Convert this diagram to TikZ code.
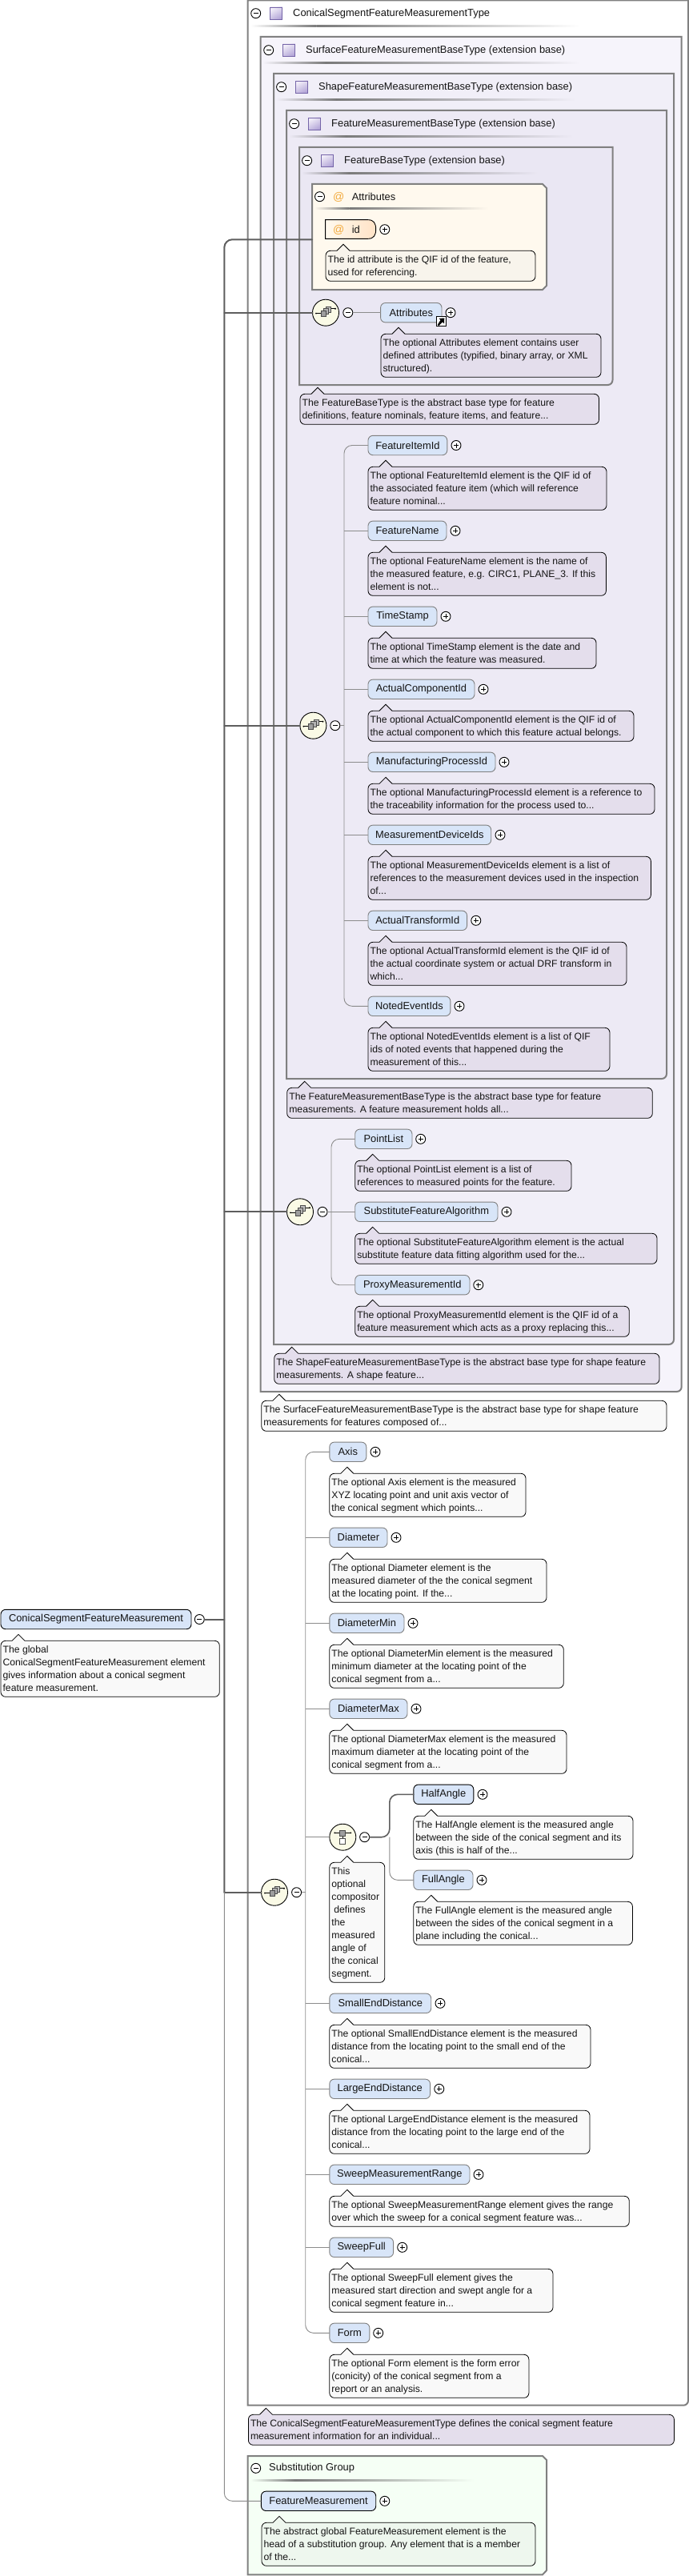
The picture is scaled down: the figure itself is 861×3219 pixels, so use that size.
\documentclass[tikz,border=0pt]{standalone}
\usepackage{fontspec}
\setmainfont{Liberation Sans}
\definecolor{framegray}{HTML}{808080}
\definecolor{trunkgray}{HTML}{5E5E5E}
\definecolor{conngray}{HTML}{8C8C8C}
\definecolor{elemblue}{HTML}{D8E5F8}
\definecolor{docpurple}{HTML}{E4DEEC}
\definecolor{docwhite}{HTML}{F9F9F9}
\definecolor{doccream}{HTML}{F8F4EC}
\definecolor{docgreen}{HTML}{EEF7EE}
\definecolor{bgone}{HTML}{F6F4FB}
\definecolor{bgtwo}{HTML}{F1EFF8}
\definecolor{bgthree}{HTML}{EDEAF5}
\definecolor{bgfour}{HTML}{EAE7F3}
\definecolor{bgattr}{HTML}{FFF9EE}
\definecolor{bgsub}{HTML}{F5FFF5}
\definecolor{compfill}{HTML}{FAFAE6}
\definecolor{atorange}{HTML}{F2A93B}
\definecolor{inktext}{HTML}{141414}
\definecolor{icontop}{HTML}{F1EDF8}
\definecolor{iconbot}{HTML}{B4A6D8}
\definecolor{iconedge}{HTML}{7565A8}
\tikzset{
 textfont/.style={font=\fontsize{12.2}{16}\selectfont,text=inktext},
 labelfont/.style={font=\fontsize{12.9}{16}\selectfont,text=inktext},
 elem/.style={rectangle,rounded corners=6pt,draw=framegray,line width=0.9pt,fill=elemblue,inner sep=0pt,labelfont,outer sep=0pt},
 elemblack/.style={elem,draw=black},
 doctext/.style={anchor=north west,inner sep=0pt,outer sep=0pt,align=left,textfont},
 titletext/.style={anchor=west,inner sep=0pt,labelfont},
 docline/.style={draw=black,line width=0.8pt},
 frameline/.style={draw=framegray,line width=2pt},
 conn/.style={draw=conngray,line width=0.9pt},
 trunk/.style={draw=trunkgray,line width=2pt,line cap=round},
 pmbase/.style={circle,draw=black,line width=0.9pt,minimum size=12pt,inner sep=0pt,outer sep=0pt},
 plusnode/.style={pmbase,fill=white,path picture={\draw[line width=0.8pt] (path picture bounding box.center)+(-3pt,0pt)--+(3pt,0pt) (path picture bounding box.center)+(0pt,-3pt)--+(0pt,3pt);}},
 minusnode/.style={pmbase,fill=white,path picture={\draw[line width=0.8pt] (path picture bounding box.center)+(-3pt,0pt)--+(3pt,0pt);}},
 compnode/.style={circle,draw=black,line width=0.9pt,fill=compfill,minimum size=33pt,inner sep=0pt,outer sep=0pt},
 iconsq/.style={draw=black!70,line width=0.7pt,fill=black!38},
 iconln/.style={draw=black,line width=0.7pt},
}
\newcommand{\ELB}[6][elem]{%
 \pgfmathsetmacro{\ELw}{#5-#4}\pgfmathsetmacro{\ELc}{(#4+#5)/2}%
 \node[#1,minimum width=\ELw pt,minimum height=24.4pt] (#2) at (\ELc,#6) {#3};}
\newcommand{\EL}[7][elem]{\ELB[#1]{#2}{#3}{#4}{#5}{#6}\node[plusnode] (#2-plus) at (#7,#6) {};}
\newcommand{\DOC}[7]{%
 \pgfmathsetmacro{\DOCtip}{#2+22}%
 \pgfmathsetmacro{\DOCa}{\DOCtip-8}\pgfmathsetmacro{\DOCb}{\DOCtip+8}%
 \pgfmathsetmacro{\DOCh}{#4-8}\pgfmathsetmacro{\DOCtx}{#2+2.6}\pgfmathsetmacro{\DOCty}{#4+4.4}%
 \draw[docline,fill=#6,rounded corners=6pt] (#2,#4) rectangle (#3,#5);%
 \fill[#6] (\DOCa,#4-0.7) rectangle (\DOCb,#4+0.7);%
 \draw[docline,fill=#6] (\DOCa,#4)--(\DOCtip,\DOCh)--(\DOCb,#4);%
 \node[doctext] (#1) at (\DOCtx,\DOCty) {\rule{0pt}{11pt}#7};}
\newcommand{\FRAME}[5]{\draw[frameline,fill=#5] (#1,#3)--(#2,#3)[rounded corners=6pt]--(#2,#4)[sharp corners]--(#1,#4)--cycle;}
\newcommand{\SEPR}[4]{%
 \pgfmathsetmacro{\SEPm}{#1+0.2*(#2-#1)}%
 \shade[left color=#4,right color=black!52] (#1,#3-1)rectangle(\SEPm,#3+1);%
 \shade[left color=black!52,right color=#4] (\SEPm,#3-1)rectangle(#2,#3+1);}
\newcommand{\TYPEICON}[2]{\shade[bottom color=iconbot,top color=icontop,draw=iconedge,line width=0.9pt,shading angle=30] (#1,#2-7.7) rectangle (#1+15.4,#2+7.7);}
\newcommand{\HDR}[6]{%
 \node[minusnode] (#1-minus) at (#2,#6) {};%
 \TYPEICON{#3}{#6}%
 \node[titletext] (#1-title) at (#4,#6) {#5};}
\newcommand{\SEQICON}[2]{%
 \draw[iconln] (#1-12,#2+1)--(#1-6,#2+1) (#1+6.5,#2-5)--(#1+12,#2-5);%
 \fill (#1-12,#2+1) circle (1pt) (#1+12,#2-5) circle (1.1pt);%
 \draw[iconsq,fill=black!25] (#1+0.7,#2-7.7) rectangle (#1+6.7,#2-0.7);%
 \draw[iconsq,fill=black!30] (#1-2.7,#2-5) rectangle (#1+3.5,#2+2);%
 \draw[iconsq] (#1-6,#2-2) rectangle (#1+0.4,#2+5);}
\newcommand{\CHOICON}[2]{%
 \draw[iconln] (#1-10,#2-5.3)--(#1+10,#2-5.3) (#1,#2-2)--(#1,#2+2);%
 \fill (#1-10,#2-5.3) circle (1pt) (#1+10,#2-5.3) circle (1pt);%
 \draw[iconsq] (#1-3.5,#2-8.5) rectangle (#1+3.5,#2-1.8);%
 \draw[iconsq,fill=white] (#1-3.5,#2+2) rectangle (#1+3.5,#2+8.7);}
\begin{document}
\begin{tikzpicture}[x=1pt,y=-1pt]
\useasboundingbox (0,0) rectangle (861,3219);
\fill[white] (0,0) rectangle (861,3219);
% ---- frames
\FRAME{309.7}{860}{0.5}{3005.7}{white}
\FRAME{325.7}{851.7}{46}{1739}{bgone}
\FRAME{342}{842}{92}{1680}{bgtwo}
\FRAME{358}{833}{138}{1348}{bgthree}
\FRAME{374}{765.5}{184}{481}{bgfour}
\draw[frameline,fill=bgattr] (390,230)--(678,230)--(683,235)--(683,357)--(678,362)--(390,362)--cycle;
\draw[frameline,fill=bgsub] (309.7,3069)--(678,3069)--(683,3074)--(683,3212)--(678,3217.3)--(309.7,3217.3)--cycle;
% ---- headers
\HDR{outer}{319.7}{337.5}{366}{ConicalSegmentFeatureMeasurementType}{16.7}
\SEPR{313}{725}{33}{white}
\HDR{surface}{335.7}{353.5}{382}{SurfaceFeatureMeasurementBaseType (extension base)}{62.7}
\SEPR{328}{724}{79}{bgone}
\HDR{shape}{351.6}{369.5}{398}{ShapeFeatureMeasurementBaseType (extension base)}{108.7}
\SEPR{345}{720}{125}{bgtwo}
\HDR{fmeas}{367.6}{385.4}{414}{FeatureMeasurementBaseType (extension base)}{154.7}
\SEPR{361}{716}{171}{bgthree}
\HDR{fbase}{383.6}{401.4}{430}{FeatureBaseType (extension base)}{200.7}
\SEPR{377}{672}{217}{bgfour}
% ---- attributes block
\node[minusnode] (attrs-minus) at (399.5,245.7) {};
\node[titletext,text=atorange,font=\fontsize{14}{16}\selectfont] (attrs-at) at (416,246.5) {@};
\node[titletext] (attrs-title) at (439.6,245.7) {Attributes};
\SEPR{393}{610}{261}{bgattr}
\shade[left color=bgattr,right color=orange!22!white,draw=black,line width=0.9pt] (406.6,274.7)--(460,274.7)..controls(467,274.7)and(469.7,279)..(469.7,286.5)..controls(469.7,294)and(467,298.3)..(460,298.3)--(406.6,298.3)--cycle;
\node[titletext,text=atorange,font=\fontsize{14}{16}\selectfont] (id-at) at (416,287.5) {@};
\node[titletext] (id-label) at (439.6,286.5) {id};
\node[plusnode] (id-plus) at (480.8,286.7) {};
\DOC{id-doc}{407}{669}{313.3}{351.3}{doccream}{The id attribute is the QIF id of the feature,\\used for referencing.}
\coordinate (attrbox) at (390,299.3);
\coordinate (trunk4) at (280.3,2364.7);
% ---- global element on the left
\ELB[elemblack]{root}{ConicalSegmentFeatureMeasurement}{1}{239}{2023.5}
\node[minusnode] (root-minus) at (249.3,2023.5) {};
\DOC{root-doc}{1}{274.3}{2050.3}{2120.3}{docwhite}{The global\\ConicalSegmentFeatureMeasurement element\\gives information about a conical segment\\feature measurement.}
% ---- compositors
\node[compnode] (comp1) at (407,390.7) {};
\node[compnode] (comp2) at (391.4,906.7) {};
\node[compnode] (comp3) at (375,1514.3) {};
\node[compnode] (comp4) at (343,2364.7) {};
\node[compnode] (comp5) at (428.3,2295.7) {};
\node[minusnode] (m1) at (434.8,390.7) {};
\node[minusnode] (m2) at (418.8,906.7) {};
\node[minusnode] (m3) at (403,1514.3) {};
\node[minusnode] (m4) at (370.6,2364.7) {};
\node[minusnode] (m5) at (455.6,2295.7) {};
\coordinate (bus2) at (430,906.7);
\coordinate (bus3) at (414,1514.3);
\coordinate (bus4) at (381.7,2364.7);
\coordinate (bus5) at (486.8,2295.7);
% ---- first group
\EL{Attributes}{Attributes}{475.6}{552}{390.7}{563}
\DOC{Attributes-doc}{476}{751}{417.3}{471.3}{docpurple}{The optional Attributes element contains user\\defined attributes (typified, binary array, or XML\\structured).}
\node[rectangle,draw=black,line width=0.9pt,fill=white,minimum size=12pt,inner sep=0pt] (attr-link) at (551,401.7) {};
\fill[black] (546.8,405.7)--(548.3,407)--(553,402.3)--(555,404.3)--(555.3,397.6)--(548.6,397.9)--(550.6,399.9)--cycle;
\DOC{fbase-doc}{375}{748.5}{492.3}{530.3}{docpurple}{The FeatureBaseType is the abstract base type for feature\\definitions, feature nominals, feature items, and feature...}
% ---- second group
\EL{FeatureItemId}{FeatureItemId}{460}{558.8}{556.5}{570}
\DOC{FeatureItemId-doc}{460}{758}{583.3}{637.3}{docpurple}{The optional FeatureItemId element is the QIF id of\\the associated feature item (which will reference\\feature nominal...}
\EL{FeatureName}{FeatureName}{460}{558}{663.3}{569}
\DOC{FeatureName-doc}{460}{757.4}{690.3}{744.3}{docpurple}{The optional FeatureName element is the name of\\the measured feature, e.g. CIRC1, PLANE\_3. If this\\element is not...}
\EL{TimeStamp}{TimeStamp}{460}{546}{770.3}{557}
\DOC{TimeStamp-doc}{460}{745}{797.3}{835.3}{docpurple}{The optional TimeStamp element is the date and\\time at which the feature was measured.}
\EL{ActualComponentId}{ActualComponentId}{460}{593}{861.3}{604}
\DOC{ActualComponentId-doc}{460}{792}{888.3}{926.3}{docpurple}{The optional ActualComponentId element is the QIF id of\\the actual component to which this feature actual belongs.}
\EL{ManufacturingProcessId}{ManufacturingProcessId}{460}{619}{952.3}{630}
\DOC{ManufacturingProcessId-doc}{460}{818}{979.3}{1017.3}{docpurple}{The optional ManufacturingProcessId element is a reference to\\the traceability information for the process used to...}
\EL{MeasurementDeviceIds}{MeasurementDeviceIds}{460}{613.7}{1043.3}{625}
\DOC{MeasurementDeviceIds-doc}{460}{813.4}{1070.3}{1124.3}{docpurple}{The optional MeasurementDeviceIds element is a list of\\references to the measurement devices used in the inspection\\of...}
\EL{ActualTransformId}{ActualTransformId}{460}{583.6}{1150.3}{594.8}
\DOC{ActualTransformId-doc}{460}{783}{1177.3}{1231.3}{docpurple}{The optional ActualTransformId element is the QIF id of\\the actual coordinate system or actual DRF transform in\\which...}
\EL{NotedEventIds}{NotedEventIds}{460}{562.9}{1257.3}{574}
\DOC{NotedEventIds-doc}{460}{762}{1284.3}{1338.3}{docpurple}{The optional NotedEventIds element is a list of QIF\\ids of noted events that happened during the\\measurement of this...}
\DOC{fmeas-doc}{358.7}{815.3}{1359.3}{1397.3}{docpurple}{The FeatureMeasurementBaseType is the abstract base type for feature\\measurements. A feature measurement holds all...}
% ---- third group
\EL{PointList}{PointList}{443.7}{515}{1423.3}{525.7}
\DOC{PointList-doc}{443.7}{714}{1450.3}{1488.3}{docpurple}{The optional PointList element is a list of\\references to measured points for the feature.}
\EL{SubstituteFeatureAlgorithm}{SubstituteFeatureAlgorithm}{443.7}{622}{1514.3}{633}
\DOC{SubstituteFeatureAlgorithm-doc}{443.7}{821}{1541.3}{1579.3}{docpurple}{The optional SubstituteFeatureAlgorithm element is the actual\\substitute feature data fitting algorithm used for the...}
\EL{ProxyMeasurementId}{ProxyMeasurementId}{443.7}{587}{1605.7}{597.8}
\DOC{ProxyMeasurementId-doc}{443.7}{786.3}{1632.3}{1670.3}{docpurple}{The optional ProxyMeasurementId element is the QIF id of a\\feature measurement which acts as a proxy replacing this...}
\DOC{shape-doc}{342.7}{824}{1691.3}{1729.3}{docpurple}{The ShapeFeatureMeasurementBaseType is the abstract base type for shape feature\\measurements. A shape feature...}
\DOC{surface-doc}{326.8}{833}{1750.3}{1788.3}{docwhite}{The SurfaceFeatureMeasurementBaseType is the abstract base type for shape feature\\measurements for features composed of...}
% ---- fourth group
\EL{Axis}{Axis}{411.8}{457.8}{1814.3}{469}
\DOC{Axis-doc}{411.8}{657}{1841.3}{1895.3}{docwhite}{The optional Axis element is the measured\\XYZ locating point and unit axis vector of\\the conical segment which points...}
\EL{Diameter}{Diameter}{411.8}{484}{1921.3}{495}
\DOC{Diameter-doc}{411.8}{683}{1948.3}{2002.3}{docwhite}{The optional Diameter element is the\\measured diameter of the the conical segment\\at the locating point. If the...}
\EL{DiameterMin}{DiameterMin}{411.8}{505}{2028.3}{516}
\DOC{DiameterMin-doc}{411.8}{704.3}{2055.3}{2109.3}{docwhite}{The optional DiameterMin element is the measured\\minimum diameter at the locating point of the\\conical segment from a...}
\EL{DiameterMax}{DiameterMax}{411.8}{509}{2135.3}{520}
\DOC{DiameterMax-doc}{411.8}{708}{2162.3}{2216.3}{docwhite}{The optional DiameterMax element is the measured\\maximum diameter at the locating point of the\\conical segment from a...}
\DOC{comp5-doc}{411.8}{480.8}{2327.3}{2477.3}{docwhite}{This\\optional\\compositor\\\hspace*{3pt}defines\\the\\measured\\angle of\\the conical\\segment.}
\EL[elemblack]{HalfAngle}{HalfAngle}{516.8}{591.8}{2242.3}{603}
\DOC{HalfAngle-doc}{516.8}{791}{2269.3}{2323.3}{docwhite}{The HalfAngle element is the measured angle\\between the side of the conical segment and its\\axis (this is half of the...}
\EL{FullAngle}{FullAngle}{516.8}{591}{2349.3}{602}
\DOC{FullAngle-doc}{516.8}{790.4}{2376.3}{2430.3}{docwhite}{The FullAngle element is the measured angle\\between the sides of the conical segment in a\\plane including the conical...}
\EL{SmallEndDistance}{SmallEndDistance}{411.8}{538.7}{2503.3}{550}
\DOC{SmallEndDistance-doc}{411.8}{738}{2530.3}{2584.3}{docwhite}{The optional SmallEndDistance element is the measured\\distance from the locating point to the small end of the\\conical...}
\EL{LargeEndDistance}{LargeEndDistance}{411.8}{537.6}{2610.3}{548.8}
\DOC{LargeEndDistance-doc}{411.8}{737}{2637.3}{2691.3}{docwhite}{The optional LargeEndDistance element is the measured\\distance from the locating point to the large end of the\\conical...}
\EL{SweepMeasurementRange}{SweepMeasurementRange}{411.8}{587}{2717.3}{598}
\DOC{SweepMeasurementRange-doc}{411.8}{786.3}{2744.3}{2782.3}{docwhite}{The optional SweepMeasurementRange element gives the range\\over which the sweep for a conical segment feature was...}
\EL{SweepFull}{SweepFull}{411.8}{491.6}{2808.3}{502.7}
\DOC{SweepFull-doc}{411.8}{691}{2835.3}{2889.3}{docwhite}{The optional SweepFull element gives the\\measured start direction and swept angle for a\\conical segment feature in...}
\EL{Form}{Form}{411.8}{461.9}{2915.3}{472.7}
\DOC{Form-doc}{411.8}{660.9}{2942.3}{2996.3}{docwhite}{The optional Form element is the form error\\(conicity) of the conical segment from a\\report or an analysis.}
\DOC{outer-doc}{310.4}{842.4}{3017.3}{3055.3}{docpurple}{The ConicalSegmentFeatureMeasurementType defines the conical segment feature\\measurement information for an individual...}
% ---- substitution group
\node[minusnode] (sub-minus) at (319.7,3084.3) {};
\node[titletext] (sub-title) at (336,3084.3) {Substitution Group};
\SEPR{313}{592}{3099.7}{bgsub}
\EL[elemblack]{FeatureMeasurement}{FeatureMeasurement}{326.4}{469.7}{3125.3}{480.8}
\DOC{FeatureMeasurement-doc}{327}{669}{3152.3}{3206.3}{docgreen}{The abstract global FeatureMeasurement element is the\\head of a substitution group. Any element that is a member\\of the...}
% ---- connectors
\draw[trunk] (root-minus.east)--(root-minus.east-|trunk4);
\draw[trunk,rounded corners=10pt] (attrbox) -| (trunk4);
\draw[trunk] (trunk4)--(comp4.west);
\draw[trunk] (comp1.west)--(comp1.west-|trunk4);
\draw[trunk] (comp2.west)--(comp2.west-|trunk4);
\draw[trunk] (comp3.west)--(comp3.west-|trunk4);
\draw[conn,rounded corners=10pt] (trunk4) |- (FeatureMeasurement.west);
\draw[conn] (m1.east)--(Attributes.west);
\draw[conn] (m2.east)--(bus2);
\draw[conn,rounded corners=10pt] (FeatureItemId.west) -| (bus2) |- (NotedEventIds.west);
\foreach \n in {FeatureName,TimeStamp,ActualComponentId,ManufacturingProcessId,MeasurementDeviceIds,ActualTransformId}{\draw[conn] (\n.west)--(\n.west-|bus2);}
\draw[conn] (m3.east)--(SubstituteFeatureAlgorithm.west);
\draw[conn,rounded corners=10pt] (PointList.west) -| (bus3) |- (ProxyMeasurementId.west);
\draw[conn] (m4.east)--(bus4);
\draw[conn,rounded corners=10pt] (Axis.west) -| (bus4) |- (Form.west);
\foreach \n in {Diameter,DiameterMin,DiameterMax,comp5,SmallEndDistance,LargeEndDistance,SweepMeasurementRange,SweepFull}{\draw[conn] (\n.west)--(\n.west-|bus4);}
\draw[conn,rounded corners=10pt] (bus5) |- (FullAngle.west);
\draw[trunk,rounded corners=10pt,line width=1.6pt] (m5.east) -| (HalfAngle.west-|bus5) -- (HalfAngle.west);
% ---- icons
\SEQICON{407}{390.7}
\SEQICON{391.4}{906.7}
\SEQICON{375}{1514.3}
\SEQICON{343}{2364.7}
\CHOICON{428.3}{2295.7}
\end{tikzpicture}
\end{document}
